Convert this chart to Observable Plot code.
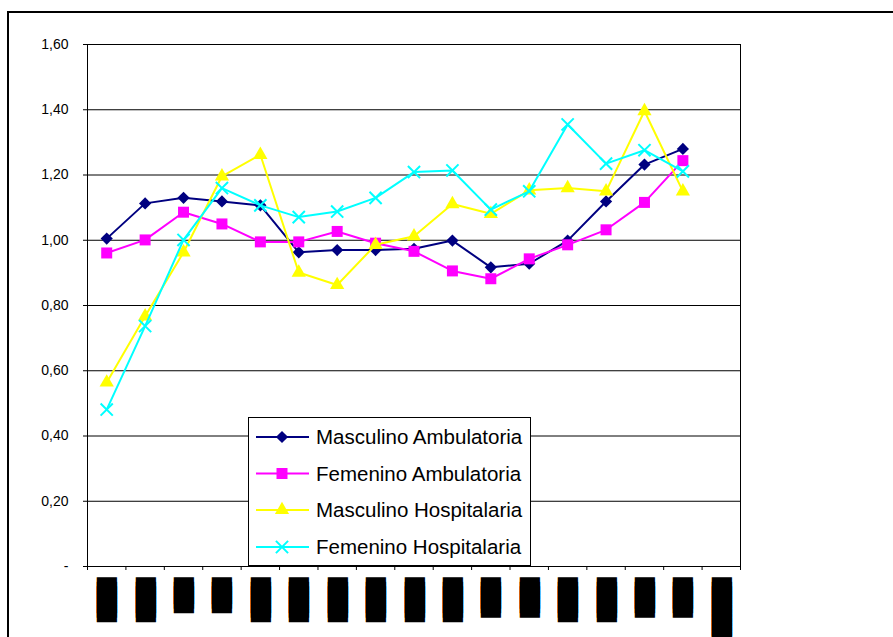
<!DOCTYPE html>
<html>
<head>
<meta charset="utf-8">
<script src="https://cdn.jsdelivr.net/npm/d3@7"></script>
<script src="https://cdn.jsdelivr.net/npm/@observablehq/plot@0.6"></script>
<style>
  html, body { margin: 0; padding: 0; background: #fff; width: 893px; height: 637px; overflow: hidden; }
  #wrap { position: relative; width: 893px; height: 637px; }
  #border { position: absolute; left: 7px; top: 11px; width: 900px; height: 700px; border-left: 2px solid #000; border-top: 2px solid #000; box-sizing: border-box; }
  #chart { position: absolute; left: 0; top: 0; }
  #legend { position: absolute; left: 248px; top: 417px; }
</style>
</head>
<body>
<div id="wrap">
  <div id="border"></div>
  <div id="chart"></div>
  <div id="legend"></div>
</div>
<script>
// ---- data ----
// 17 category slots; the category labels in the picture render as solid black blocks
const xLabels = ["████████","████████","██████","██████","████████","████████","████████","████████","████████","████████","███████","███████","████████","████████","███████","███████","█████████████"];
const seriesNames = ["Masculino Ambulatoria","Femenino Ambulatoria","Masculino Hospitalaria","Femenino Hospitalaria"];
const masculinoAmbulatoria = [1.005,1.113,1.130,1.119,1.107,0.963,0.970,0.970,0.974,0.999,0.917,0.928,0.999,1.119,1.232,1.280];
const femeninoAmbulatoria  = [0.961,1.001,1.086,1.050,0.995,0.995,1.027,0.991,0.966,0.906,0.882,0.943,0.986,1.032,1.116,1.244];
const masculinoHospitalaria = [0.564,0.767,0.963,1.196,1.262,0.901,0.863,0.986,1.012,1.111,1.081,1.153,1.160,1.150,1.396,1.150];
const femeninoHospitalaria  = [0.481,0.737,1.001,1.160,1.107,1.071,1.088,1.130,1.209,1.214,1.094,1.150,1.355,1.235,1.276,1.211];
const yTicks = [0,0.2,0.4,0.6,0.8,1.0,1.2,1.4,1.6];

// ---- styles ----
const styles = [
  {color:"#000080", symbol:"diamond2", r:5.5, filled:true},
  {color:"#FF00FF", symbol:"square2", r:7, filled:true},
  {color:"#FFFF00", symbol:"triangle2", r:6.8, filled:true},
  {color:"#00FFFF", symbol:"times", r:5.6, filled:false}
];
const allValues = [masculinoAmbulatoria, femeninoAmbulatoria, masculinoHospitalaria, femeninoHospitalaria];

const font = "'Liberation Sans', Arial, sans-serif";
const blockFont = "DejaVu Sans";
const blockSize = 17;
const blockStep = 4.5; // px advance per block glyph
const fmt = d => d === 0 ? "-" : d.toFixed(2).replace(".", ",");

const seriesMarks = [];
allValues.forEach((vals, s) => {
  const rows = vals.map((v, i) => ({cat: i + 1, v}));
  const st = styles[s];
  seriesMarks.push(Plot.line(rows, {x: "cat", y: "v", stroke: st.color, strokeWidth: 2}));
  seriesMarks.push(Plot.dot(rows, st.filled
    ? {x: "cat", y: "v", symbol: st.symbol, r: st.r, fill: st.color, stroke: "none"}
    : {x: "cat", y: "v", symbol: st.symbol, r: st.r, stroke: st.color, strokeWidth: 2}));
});

const boundaries = d3.range(0, xLabels.length + 1).map(k => k + 0.5);

const chart = Plot.plot({
  width: 893,
  height: 637,
  marginLeft: 87,
  marginRight: 153,
  marginTop: 44,
  marginBottom: 71,
  style: {fontFamily: font, background: "transparent", overflow: "hidden"},
  x: {type: "linear", domain: [0.5, xLabels.length + 0.5]},
  y: {domain: [0, 1.6]},
  marks: [
    Plot.ruleY(yTicks.filter(d => d > 0 && d < 1.6), {stroke: "#000", strokeWidth: 1}),
    Plot.frame({stroke: "#000", strokeWidth: 1}),
    Plot.axisY({ticks: yTicks, tickFormat: fmt, tickSize: 4, tickPadding: 15, fontSize: 14, label: null, fill: "#000", stroke: "#000"}),
    Plot.axisX({ticks: boundaries, tickSize: 4, tickFormat: () => "", label: null, stroke: "#000"}),
    Plot.text(xLabels, {x: (d, i) => i + 1, frameAnchor: "bottom", dy: 11, rotate: 90, textAnchor: "start", lineAnchor: "middle", fontSize: blockSize, fontFamily: blockFont, fill: "#000"}),
    ...seriesMarks
  ]
});
document.getElementById("chart").appendChild(chart);

// tighten the block glyphs of the category labels
{
  const svg = d3.select(chart);
  const probe = svg.append("text").attr("font-family", blockFont).attr("font-size", blockSize).text("█");
  const w = probe.node().getComputedTextLength();
  probe.remove();
  chart.querySelectorAll('g[aria-label="text"] text').forEach(t => {
    t.style.letterSpacing = (blockStep - w) + "px";
  });
}

// ---- legend ----
const lw = 283, lh = 149;
const lsvg = d3.select("#legend").append("svg").attr("width", lw).attr("height", lh);
lsvg.append("rect").attr("x", 0.5).attr("y", 0.5).attr("width", lw - 1).attr("height", lh - 1)
  .attr("fill", "#fff").attr("stroke", "#000").attr("stroke-width", 1);
const rowY = [20, 56.5, 93, 130];
const symMap = {diamond2: d3.symbolDiamond2, square2: d3.symbolSquare2, triangle2: d3.symbolTriangle2, times: d3.symbolTimes};
seriesNames.forEach((name, i) => {
  const st = styles[i];
  const g = lsvg.append("g").attr("transform", `translate(0,${rowY[i]})`);
  g.append("line").attr("x1", 8).attr("x2", 61).attr("y1", 0).attr("y2", 0)
    .attr("stroke", st.color).attr("stroke-width", 2);
  const path = d3.symbol(symMap[st.symbol], Math.PI * st.r * st.r)();
  const p = g.append("path").attr("d", path).attr("transform", "translate(34,0)");
  if (st.filled) p.attr("fill", st.color); else p.attr("fill", "none").attr("stroke", st.color).attr("stroke-width", 2);
  g.append("text").attr("x", 68).attr("y", 0).attr("dy", "0.35em")
    .attr("font-family", font).attr("font-size", 20.5).attr("fill", "#000").text(name);
});
</script>
</body>
</html>
